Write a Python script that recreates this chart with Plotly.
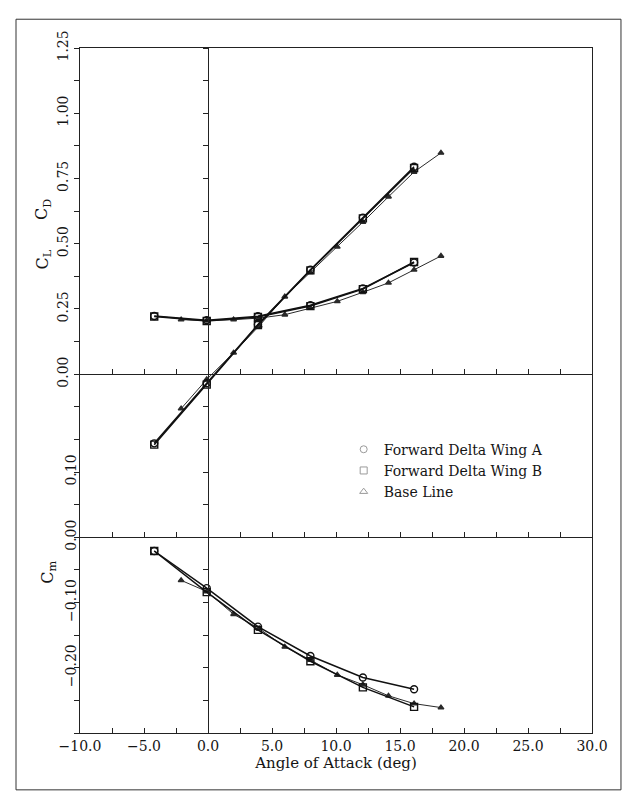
import plotly.graph_objects as go

# ---------------- data ----------------
alpha_ab = [-4.2, -0.1, 3.9, 8.0, 12.1, 16.1]
cl_a = [-0.265, -0.035, 0.190, 0.400, 0.600, 0.795]
cl_b = [-0.270, -0.040, 0.188, 0.398, 0.597, 0.790]
cd_a = [0.223, 0.207, 0.222, 0.264, 0.329, 0.428]
cd_b = [0.221, 0.204, 0.219, 0.261, 0.326, 0.430]
cm_a = [-0.021, -0.078, -0.137, -0.182, -0.215, -0.233]
cm_b = [-0.021, -0.084, -0.142, -0.190, -0.230, -0.260]

alpha_base = [-2.1, -0.1, 2.0, 4.0, 6.0, 8.0, 10.1, 12.1, 14.1, 16.1, 18.2]
cl_base = [-0.132, -0.020, 0.082, 0.185, 0.297, 0.390, 0.488, 0.583, 0.680, 0.775, 0.848]
cd_base = [0.209, 0.205, 0.209, 0.215, 0.228, 0.253, 0.279, 0.314, 0.350, 0.400, 0.453]
cm_base = [-0.066, -0.083, -0.118, -0.140, -0.168, -0.188, -0.211, -0.226, -0.243, -0.255, -0.261]

series_names = ["Forward Delta Wing A", "Forward Delta Wing B", "Base Line"]

cl_ticks = [0.0, 0.25, 0.50, 0.75, 1.00, 1.25]
cl_ticktext = ["0.00", "0.25", "0.50", "0.75", "1.00", "1.25"]
cm_ticks = [0.10, 0.0, -0.10, -0.20]
cm_ticktext = ["0.10", "0.00", "\u22120.10", "\u22120.20"]

X_RANGE = [-10, 30]
CL_RANGE = [-1.375, 1.25]
CM_RANGE = [-0.30, 0.75]

SERIF = "DejaVu Serif"
INK = "#151515"

fig = go.Figure()

def add(x, y, yaxis, symbol, size, lw, color, mfill):
    fig.add_trace(go.Scatter(
        x=x, y=y, yaxis=yaxis, mode="lines+markers", showlegend=False,
        line=dict(color=color, width=lw),
        marker=dict(symbol=symbol, size=size, color=mfill,
                    line=dict(color=color, width=1.4)),
        cliponaxis=False))

# Base line (thin)
add(alpha_base, cl_base, "y", "triangle-up", 5, 1.0, "#2a2a2a", "#2a2a2a")
add(alpha_base, cd_base, "y", "triangle-up", 5, 1.0, "#2a2a2a", "#2a2a2a")
add(alpha_base, cm_base, "y2", "triangle-up", 5, 1.0, "#2a2a2a", "#2a2a2a")
# Wing B (squares)
add(alpha_ab, cl_b, "y", "square-open", 7, 1.5, "#111", "#111")
add(alpha_ab, cd_b, "y", "square-open", 7, 1.5, "#111", "#111")
add(alpha_ab, cm_b, "y2", "square-open", 7, 1.5, "#111", "#111")
# Wing A (circles)
add(alpha_ab, cl_a, "y", "circle-open", 7, 1.5, "#111", "#111")
add(alpha_ab, cd_a, "y", "circle-open", 7, 1.5, "#111", "#111")
add(alpha_ab, cm_a, "y2", "circle-open", 7, 1.5, "#111", "#111")

# empty traces so that the zero-line axes are drawn
for xa, ya in [("x2", "y"), ("x3", "y"), ("x", "y3")]:
    fig.add_trace(go.Scatter(x=[None], y=[None], xaxis=xa, yaxis=ya,
                             mode="markers", showlegend=False, hoverinfo="skip"))

# legend entries (symbols only, faint as in the reference)
for name, sym in zip(series_names, ["circle-open", "square-open", "triangle-up-open"]):
    fig.add_trace(go.Scatter(x=[None], y=[None], mode="markers", name=name,
                             marker=dict(symbol=sym, size=7, color="#9a9a9a",
                                         line=dict(color="#9a9a9a", width=1))))

axis_line = dict(showline=True, linecolor="#222", linewidth=1, showgrid=False, zeroline=False)
tickfont = dict(family=SERIF, size=14, color=INK)

fig.update_layout(
    width=628, height=794,
    margin=dict(l=80, r=36, t=48, b=61),
    paper_bgcolor="white", plot_bgcolor="white",
    font=dict(family=SERIF, color=INK),
    xaxis=dict(range=X_RANGE, dtick=5, tick0=0, tickformat=".1f",
               ticks="inside", ticklen=5, tickcolor="#222",
               minor=dict(dtick=2.5, ticks="inside", ticklen=5, tickcolor="#222"),
               mirror=True, tickfont=tickfont,
               title=dict(text="Angle of Attack (deg)", standoff=2,
                          font=dict(family=SERIF, size=15, color=INK)),
               **axis_line),
    yaxis=dict(range=CL_RANGE, tickvals=cl_ticks, ticktext=cl_ticktext,
               ticks="outside", ticklen=5, tickcolor="#222", tickangle=-90,
               minor=dict(dtick=0.125, tick0=0, ticks="outside", ticklen=5, tickcolor="#222"),
               mirror=True, tickfont=tickfont, **axis_line),
    yaxis2=dict(range=CM_RANGE, overlaying="y", side="left", anchor="x",
                tickvals=cm_ticks, ticktext=cm_ticktext, ticks="", tickangle=-90,
                showline=False, showgrid=False, zeroline=False, tickfont=tickfont),
    # horizontal line at C_L = 0
    xaxis2=dict(range=X_RANGE, overlaying="x", anchor="free",
                position=(0 - CL_RANGE[0]) / (CL_RANGE[1] - CL_RANGE[0]),
                dtick=2.5, tick0=0, ticks="inside", ticklen=5, tickcolor="#222",
                showticklabels=False, **axis_line),
    # horizontal line at Cm = 0
    xaxis3=dict(range=X_RANGE, overlaying="x", anchor="free",
                position=(0 - CM_RANGE[0]) / (CM_RANGE[1] - CM_RANGE[0]),
                dtick=2.5, tick0=0, ticks="inside", ticklen=5, tickcolor="#222",
                showticklabels=False, **axis_line),
    # vertical line at alpha = 0
    yaxis3=dict(range=CL_RANGE, overlaying="y", anchor="free",
                position=(0 - X_RANGE[0]) / (X_RANGE[1] - X_RANGE[0]),
                dtick=0.125, tick0=0, ticks="outside", ticklen=5, tickcolor="#222",
                showticklabels=False, **axis_line),
    legend=dict(x=0.515, y=0.437, xanchor="left", yanchor="top",
                bgcolor="rgba(0,0,0,0)", borderwidth=0,
                font=dict(family=SERIF, size=14, color=INK),
                itemwidth=30, tracegroupgap=0),
    showlegend=True,
)

# axis labels (rotated, as in the reference)
lab_font = dict(family=SERIF, size=16, color=INK)
fig.add_annotation(x=-0.072, xref="paper", y=0.44, yref="y", text="C<sub>L</sub>",
                   xanchor="center", yanchor="middle",
                   textangle=-90, showarrow=False, font=lab_font)
fig.add_annotation(x=-0.072, xref="paper", y=0.63, yref="y", text="C<sub>D</sub>",
                   xanchor="center", yanchor="middle",
                   textangle=-90, showarrow=False, font=lab_font)
fig.add_annotation(x=-0.062, xref="paper", y=-0.054, yref="y2", text="C<sub>m</sub>",
                   xanchor="center", yanchor="middle",
                   textangle=-90, showarrow=False, font=lab_font)

# outer frame of the figure page
fig.add_shape(type="rect", xref="paper", yref="paper",
              x0=-0.125, x1=1.0566, y0=-0.083, y1=1.042,
              line=dict(color="#333", width=1))

fig.write_html("out.html")
